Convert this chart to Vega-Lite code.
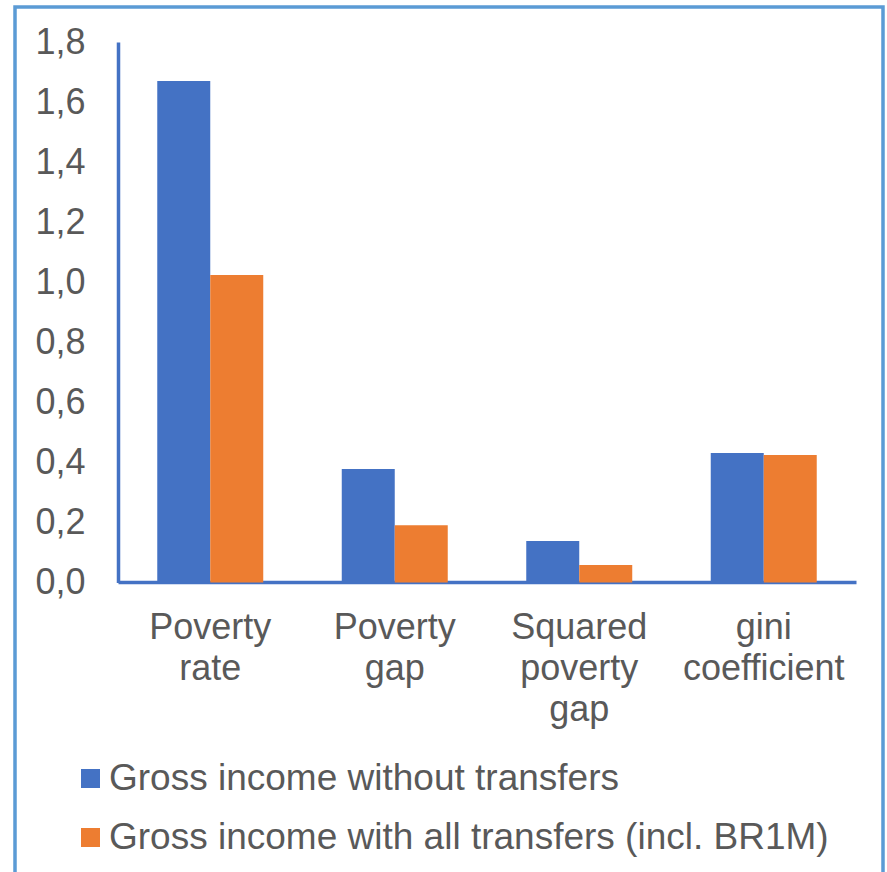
{
  "$schema": "https://vega.github.io/schema/vega-lite/v6.json",
  "width": 868,
  "height": 885,
  "autosize": {"type": "none"},
  "padding": {"left": 15, "top": 7, "right": 4, "bottom": -20},
  "background": "white",
  "config": {
    "font": "Liberation Sans",
    "view": {"stroke": "#5b9bd5", "strokeWidth": 3.5}
  },
  "data": {
    "values": [
      {"indicator": "Poverty rate", "series": "Gross income without transfers", "value": 1.670},
      {"indicator": "Poverty rate", "series": "Gross income with all transfers (incl. BR1M)", "value": 1.024},
      {"indicator": "Poverty gap", "series": "Gross income without transfers", "value": 0.378},
      {"indicator": "Poverty gap", "series": "Gross income with all transfers (incl. BR1M)", "value": 0.191},
      {"indicator": "Squared poverty gap", "series": "Gross income without transfers", "value": 0.138},
      {"indicator": "Squared poverty gap", "series": "Gross income with all transfers (incl. BR1M)", "value": 0.058},
      {"indicator": "gini coefficient", "series": "Gross income without transfers", "value": 0.431},
      {"indicator": "gini coefficient", "series": "Gross income with all transfers (incl. BR1M)", "value": 0.425}
    ]
  },
  "mark": {"type": "bar"},
  "encoding": {
    "x": {
      "field": "indicator",
      "type": "nominal",
      "sort": ["Poverty rate", "Poverty gap", "Squared poverty gap", "gini coefficient"],
      "scale": {"range": [103, 841], "paddingInner": 0.4255, "paddingOuter": 0.2128},
      "axis": {
        "title": null,
        "offset": -310,
        "domainColor": "#4472c4",
        "domainWidth": 3.5,
        "ticks": false,
        "tickSize": 0,
        "labelPadding": 28,
        "labelFontSize": 36,
        "labelColor": "#595959",
        "labelLineHeight": 41,
        "labelAngle": 0,
        "labelLimit": 0,
        "labelOverlap": false,
        "labelFlush": false,
        "labelExpr": "split(datum.label, ' ')"
      }
    },
    "xOffset": {
      "field": "series",
      "type": "nominal",
      "sort": ["Gross income without transfers", "Gross income with all transfers (incl. BR1M)"],
      "scale": {"paddingInner": 0, "paddingOuter": 0}
    },
    "y": {
      "field": "value",
      "type": "quantitative",
      "scale": {"domain": [0, 1.8], "range": [575.5, 35], "nice": false, "zero": true},
      "axis": {
        "title": null,
        "offset": -103,
        "values": [0, 0.2, 0.4, 0.6, 0.8, 1.0, 1.2, 1.4, 1.6, 1.8],
        "grid": false,
        "domainColor": "#4472c4",
        "domainWidth": 3.5,
        "ticks": false,
        "tickSize": 0,
        "labelPadding": 33,
        "labelFontSize": 36,
        "labelColor": "#595959",
        "labelExpr": "replace(format(datum.value, '.1f'), '.', ',')"
      }
    },
    "color": {
      "field": "series",
      "type": "nominal",
      "sort": ["Gross income without transfers", "Gross income with all transfers (incl. BR1M)"],
      "scale": {
        "domain": ["Gross income without transfers", "Gross income with all transfers (incl. BR1M)"],
        "range": ["#4472c4", "#ed7d31"]
      },
      "legend": {
        "title": null,
        "orient": "none",
        "legendX": 57,
        "legendY": 753,
        "symbolType": "square",
        "symbolSize": 361,
        "symbolStrokeWidth": 0,
        "labelFontSize": 37,
        "labelColor": "#595959",
        "labelOffset": 0,
        "labelLimit": 0,
        "rowPadding": 21,
        "padding": 0
      }
    }
  }
}
